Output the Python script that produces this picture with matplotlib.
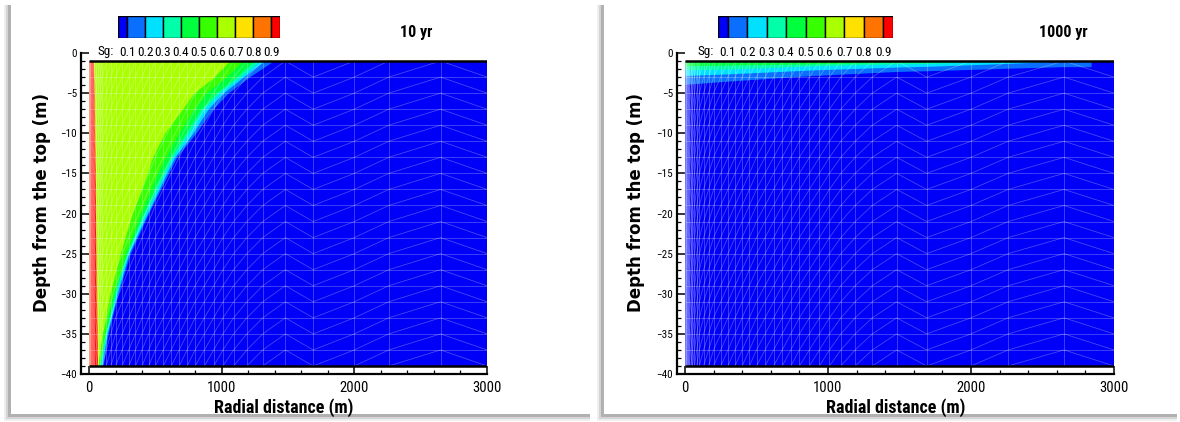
import numpy as np
import matplotlib
matplotlib.use("Agg")
import matplotlib.pyplot as plt
from matplotlib.collections import LineCollection
from matplotlib.patches import Rectangle
from matplotlib.ticker import MultipleLocator

# ---------------- data ----------------
levels = [0.1, 0.2, 0.3, 0.4, 0.5, 0.6, 0.7, 0.8, 0.9]
cbar_labels = ["0.1", "0.2", "0.3", "0.4", "0.5", "0.6", "0.7", "0.8", "0.9"]
band_colors = ["#0000F8", "#0A6EFF", "#00E1FF", "#00FFA8", "#00FF3C", "#38FF00",
               "#AAFF00", "#FFE100", "#FF7300", "#FF0000"]
panel_titles = ["10 yr", "1000 yr"]

domain_r = [0, 3000]
domain_z = [-39, -1]

# 10 yr : outer radius (m) of region where Sg > level, at given depths
depth_10yr = [-1, -3, -5, -7, -10, -13, -15, -20, -25, -30, -35, -39]
r10_sg01 = [1390, 1207, 1048, 934, 805, 660, 600, 448, 311, 220, 144, 106]
r10_sg02 = [1321, 1162, 1010, 896, 782, 645, 585, 440, 300, 212, 137, 96]
r10_sg03 = [1283, 1140, 980, 865, 752, 630, 570, 425, 292, 203, 131, 88]
r10_sg04 = [1245, 1109, 957, 843, 729, 615, 554, 410, 285, 195, 125, 82]
r10_sg05 = [1159, 1033, 880, 790, 676, 577, 516, 387, 273, 182, 114, 75]
r10_sg06 = [1058, 942, 790, 704, 570, 478, 440, 326, 235, 159, 99, 66]
r10_sg07 = [36, 40, 43, 45, 47, 49, 51, 54, 57, 61, 65, 68]
r10_sg08 = [33, 37, 40, 42, 44, 46, 48, 51, 54, 58, 62, 65]
r10_sg09 = [30, 34, 37, 39, 41, 43, 45, 48, 51, 55, 59, 62]

# 1000 yr : depth (m) of level crossing below the caprock, versus radius
r1000_sg01 = [0, 300, 900, 1480, 1715, 2250, 2645, 2840, 2840]
d1000_sg01 = [-3.9, -3.5, -2.8, -2.3, -2.2, -1.9, -1.7, -1.7, -1.0]
r1000_sg02 = [0, 300, 900, 1480, 1715, 2250, 2645]
d1000_sg02 = [-2.8, -2.6, -2.1, -1.75, -1.65, -1.3, -1.0]
r1000_sg03 = [0, 300, 900, 1480, 1715, 2250]
d1000_sg03 = [-2.1, -2.0, -1.6, -1.35, -1.3, -1.0]
r1000_sg04 = [0, 300, 900, 1480, 1925]
d1000_sg04 = [-1.6, -1.5, -1.35, -1.15, -1.0]

# simulation mesh (radial nodes)
mesh_r = [0, 4, 9, 15, 22, 30, 40, 52, 66, 82, 100, 130, 165, 200, 250, 300, 350,
          400, 450, 500, 560, 620, 680, 740, 800, 870, 940, 1010, 1090, 1190, 1310,
          1480, 1690, 2000, 2260, 2650, 3000]
mesh_z = list(range(-39, 0, 2))
mesh_flip = [1480, 2650]   # columns whose diagonals run the other way

# ---------------- figure ----------------
W, H = 1180, 422
fig = plt.figure(figsize=(W / 100, H / 100), dpi=100)
fig.patch.set_facecolor("white")

NARROW = ["Roboto Condensed", "Liberation Sans", "DejaVu Sans"]


def fbox(x0, y0, x1, y1):
    return [x0 / W, 1 - y1 / H, (x1 - x0) / W, (y1 - y0) / H]


def card(x0, y0, x1, y1):
    for k, a in zip([7, 5, 3], [0.10, 0.18, 0.30]):
        fig.patches.append(Rectangle(((x0 - k) / W, 1 - (y1 + k) / H),
                                     (x1 - x0 + k) / W, (y1 - y0 + k) / H,
                                     transform=fig.transFigure, facecolor="#606060",
                                     alpha=a, edgecolor="none", zorder=-3))
    fig.patches.append(Rectangle((x0 / W, 1 - y1 / H), (x1 - x0) / W, (y1 - y0) / H,
                                 transform=fig.transFigure, facecolor="white",
                                 edgecolor="none", zorder=-2))


card(11, 5, 590, 414)
card(604, 5, 1177, 414)

panels = [
    dict(spine=81, x0=89, x3000=487, cb=(118, 280), sg=97, title_x=416, ylab_x=-0.074),
    dict(spine=677, x0=685, x3000=1114, cb=(718, 893), sg=697, title_x=1063, ylab_x=-0.073),
]
top_y, bot_y = 53, 374


def draw_mesh(ax):
    segs = []
    for r in mesh_r:
        segs.append([(r, domain_z[0]), (r, domain_z[1])])
    for z in mesh_z[1:-1]:
        segs.append([(domain_r[0], z), (domain_r[1], z)])
    for i in range(len(mesh_r) - 1):
        ra, rb = mesh_r[i], mesh_r[i + 1]
        for j in range(len(mesh_z) - 1):
            za, zb = mesh_z[j], mesh_z[j + 1]
            if ra in mesh_flip:
                segs.append([(ra, zb), (rb, za)])
            else:
                segs.append([(ra, za), (rb, zb)])
    lc = LineCollection(segs, colors="white", linewidths=0.6, alpha=0.28, zorder=5)
    ax.add_collection(lc)


axes = []
for p in panels:
    scale = (p["x3000"] - p["x0"]) / 3000.0
    xmin = -(p["x0"] - p["spine"]) / scale
    ax = fig.add_axes(fbox(p["spine"], top_y, p["x3000"], bot_y))
    ax.set_xlim(xmin, 3000)
    ax.set_ylim(-40, 0)
    ax.set_facecolor("none")
    for s in ["top", "right"]:
        ax.spines[s].set_visible(False)
    for s in ["left", "bottom"]:
        ax.spines[s].set_linewidth(1.6)
    ax.xaxis.set_major_locator(MultipleLocator(1000))
    ax.xaxis.set_minor_locator(MultipleLocator(200))
    ax.yaxis.set_major_locator(MultipleLocator(5))
    ax.yaxis.set_minor_locator(MultipleLocator(1))
    ax.tick_params(which="major", direction="in", length=6, width=1.1)
    ax.tick_params(which="minor", direction="in", length=3, width=0.9)
    ax.tick_params(axis="x", labelsize=10.5, pad=5)
    ax.tick_params(axis="y", labelsize=8, pad=3)
    for lab in ax.get_xticklabels() + ax.get_yticklabels():
        lab.set_family(NARROW)
    ax.set_xlabel("Radial distance (m)", fontsize=13, fontweight="bold",
                  family=NARROW, labelpad=2)
    ax.set_ylabel("Depth from the top (m)", fontsize=12, fontweight="bold",
                  family=["DejaVu Sans"])
    ax.yaxis.set_label_coords(p["ylab_x"], 0.535)
    # background saturation (< 0.1)
    ax.fill_between(domain_r, domain_z[0], domain_z[1], color=band_colors[0], lw=0, zorder=1)
    axes.append(ax)

# ----- 10 yr panel -----
ax = axes[0]
fronts10 = [r10_sg01, r10_sg02, r10_sg03, r10_sg04, r10_sg05, r10_sg06,
            r10_sg07, r10_sg08, r10_sg09]
for k, fr in enumerate(fronts10):
    ax.fill_betweenx(depth_10yr, 0, fr, color=band_colors[k + 1], lw=0, zorder=2 + k * 0.01)

# ----- 1000 yr panel -----
ax = axes[1]
layers = [(r1000_sg01, d1000_sg01), (r1000_sg02, d1000_sg02),
          (r1000_sg03, d1000_sg03), (r1000_sg04, d1000_sg04)]
for k, (rr, dd) in enumerate(layers):
    ax.fill_between(rr, dd, domain_z[1], color=band_colors[k + 1], lw=0, zorder=2 + k * 0.01)

for ax, p, title in zip(axes, panels, panel_titles):
    draw_mesh(ax)
    ax.hlines([domain_z[0], domain_z[1]], domain_r[0], domain_r[1], colors="black",
              linewidth=1.8, zorder=6)
    # colour legend
    cax = fig.add_axes(fbox(p["cb"][0], 16, p["cb"][1], 38))
    edges = [0.05] + levels + [0.95]
    for k in range(len(edges) - 1):
        cax.add_patch(Rectangle((edges[k], 0), edges[k + 1] - edges[k], 1,
                                facecolor=band_colors[k], edgecolor="black", lw=1.0))
    cax.set_xlim(0.05, 0.95)
    cax.set_ylim(0, 1)
    cax.axis("off")
    for lv, lab in zip(levels, cbar_labels):
        cax.text(lv, -0.64, lab, ha="center", va="center", fontsize=9.5,
                 family=NARROW, transform=cax.get_xaxis_transform())
    fig.text(p["sg"] / W, 1 - 52 / H, "Sg:", ha="left", va="center", fontsize=9.5, family=NARROW)
    fig.text(p["title_x"] / W, 1 - 33 / H, title, ha="center", va="center",
             fontsize=11.5, fontweight="bold", family=NARROW)

fig.savefig("out.png", dpi=100)
